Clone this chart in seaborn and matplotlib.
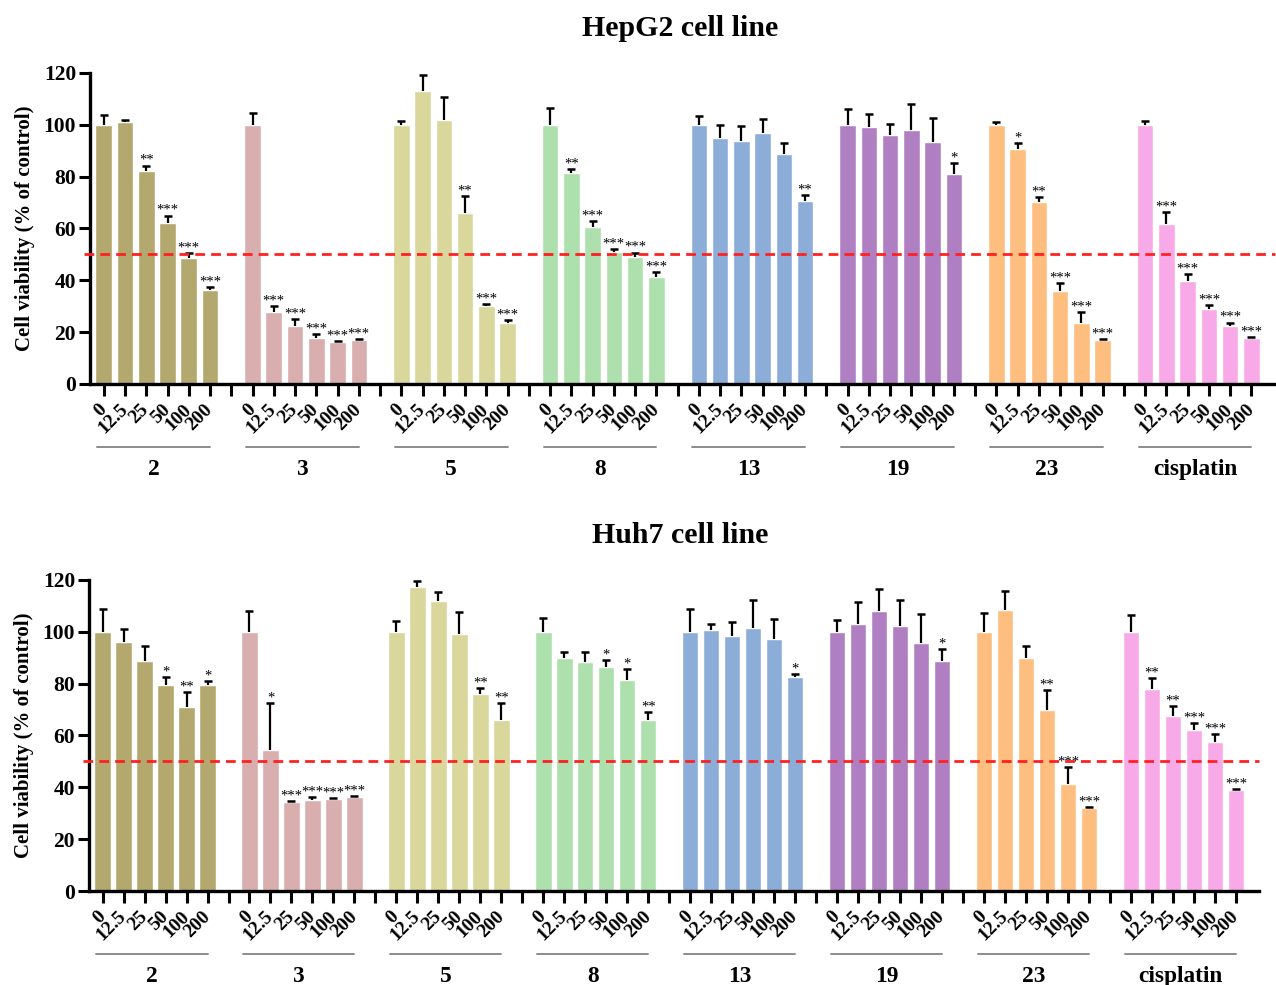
import numpy as np
import pandas as pd
import matplotlib
matplotlib.use("Agg")
import matplotlib.pyplot as plt
import matplotlib.transforms as mtransforms
import seaborn as sns

compounds = ["2", "3", "5", "8", "13", "19", "23", "cisplatin"]
concs = ["0", "12.5", "25", "50", "100", "200"]
colors = ["#B3A86E", "#D9AEAE", "#D9D79B", "#AEE0AE",
          "#8DADD9", "#B07FC2", "#FDBE80", "#F8AAE8"]

# HepG2 cell line, mean and SD per compound (rows) and concentration (cols)
hepg2_mean = [[100, 101, 82, 62, 48.7, 36.4],
              [100, 27.7, 22.5, 17.6, 16.0, 16.9],
              [100, 113, 102, 65.8, 30.2, 23.4],
              [100, 81.4, 60.7, 50.8, 49.0, 41.4],
              [100, 95.0, 93.7, 97.0, 88.7, 70.7],
              [100, 99.3, 95.9, 98.0, 93.4, 81.0],
              [100, 90.5, 70.3, 36.0, 23.7, 16.8],
              [100, 61.7, 39.7, 28.8, 22.4, 17.9]]
hepg2_sd = [[3.8, 1.0, 2.3, 3.0, 1.8, 0.9],
            [4.7, 2.4, 2.5, 1.8, 0.4, 0.4],
            [1.6, 6.2, 8.7, 6.7, 0.5, 1.3],
            [6.6, 1.4, 2.2, 1.1, 1.7, 1.9],
            [3.4, 4.9, 5.8, 5.4, 4.1, 2.1],
            [6.0, 4.7, 4.6, 9.9, 9.1, 4.4],
            [1.0, 2.3, 1.7, 2.8, 3.9, 0.4],
            [1.6, 4.7, 2.6, 1.5, 1.3, 0.3]]
hepg2_sig = [["", "", "**", "***", "***", "***"],
             ["", "***", "***", "***", "***", "***"],
             ["", "", "", "**", "***", "***"],
             ["", "**", "***", "***", "***", "***"],
             ["", "", "", "", "", "**"],
             ["", "", "", "", "", "*"],
             ["", "*", "**", "***", "***", "***"],
             ["", "***", "***", "***", "***", "***"]]

# Huh7 cell line
huh7_mean = [[100, 95.9, 88.9, 79.5, 71.0, 79.3],
             [100, 54.3, 34.3, 35.1, 35.4, 36.1],
             [100, 117.2, 112.0, 99.0, 76.1, 66.1],
             [100, 90.0, 88.5, 86.5, 81.4, 66.1],
             [100, 100.6, 98.5, 101.6, 97.1, 82.4],
             [100, 103.0, 108.0, 102.1, 95.5, 88.7],
             [100, 108.5, 89.9, 69.7, 41.2, 32.0],
             [100, 77.9, 67.4, 62.1, 57.6, 39.0]]
huh7_sd = [[8.7, 5.2, 5.5, 3.2, 5.9, 1.8],
           [8.0, 18.1, 0.3, 1.3, 0.6, 0.5],
           [4.2, 2.5, 3.4, 8.5, 2.1, 6.3],
           [5.3, 2.2, 3.7, 2.5, 4.4, 3.1],
           [8.9, 2.4, 5.2, 10.8, 7.8, 1.2],
           [4.4, 8.4, 8.4, 10.0, 11.4, 4.5],
           [7.4, 7.2, 4.7, 8.0, 6.6, 0.4],
           [6.5, 4.3, 4.0, 2.8, 3.1, 0.4]]
huh7_sig = [["", "", "", "*", "**", "*"],
            ["", "*", "***", "***", "***", "***"],
            ["", "", "", "", "**", "**"],
            ["", "", "", "*", "*", "**"],
            ["", "", "", "", "", "*"],
            ["", "", "", "", "", "*"],
            ["", "", "", "**", "***", "***"],
            ["", "**", "**", "***", "***", "***"]]


def make_frame(means, sds, sigs):
    """Long table, one row per bar; pos leaves one empty slot between groups."""
    rows = []
    for g, comp in enumerate(compounds):
        for c, conc in enumerate(concs):
            rows.append({"compound": comp, "conc": conc, "pos": g * 7 + c,
                         "viability": means[g][c], "sd": sds[g][c],
                         "sig": sigs[g][c]})
    return pd.DataFrame(rows)


def panel(ax, df, title_y, title):
    sns.barplot(data=df, x="pos", y="viability", hue="compound",
                hue_order=compounds, palette=dict(zip(compounds, colors)),
                native_scale=True, dodge=False, width=0.78, saturation=1,
                errorbar=None, legend=False, ax=ax)
    top = df["viability"] + df["sd"]
    ax.vlines(df["pos"], df["viability"], top, color="black", lw=1.6, zorder=3)
    ax.plot(df["pos"], top, ls="none", marker="_", ms=6, mew=1.8,
            color="black", zorder=3)
    for x, y, s in zip(df["pos"], top, df["sig"]):
        if s:
            ax.text(x, y + 0.6, s, ha="center", va="baseline", fontsize=10.5,
                    fontweight="normal", zorder=4)

    ax.axhline(50, color="#FF2020", lw=2, dashes=(3.5, 2.2), zorder=5,
               xmin=-0.005, clip_on=False)

    n_slots = len(compounds) * 7 - 1
    labels = ["" if i % 7 == 6 else concs[i % 7] for i in range(n_slots)]
    ax.set_xticks(range(n_slots))
    ax.set_xticklabels(labels, rotation=45, ha="right", va="center",
                       rotation_mode="anchor", fontsize=14, fontweight="bold")
    shift = mtransforms.ScaledTranslation(4 / 72, 0, ax.figure.dpi_scale_trans)
    for lab in ax.get_xticklabels():
        lab.set_transform(lab.get_transform() + shift)
    ax.set_xlim(-0.65, n_slots + 0.1)
    ax.set_ylim(0, 120)
    ax.set_yticks(range(0, 121, 20))
    ax.tick_params(axis="y", labelsize=15.5, width=2.2, length=8, pad=2)
    ax.tick_params(axis="x", width=2.2, length=8.5, pad=8)
    for lab in ax.get_yticklabels():
        lab.set_fontweight("bold")
    ax.set_xlabel("")
    ax.set_ylabel("Cell viability (% of control)", fontsize=15,
                  fontweight="bold", labelpad=6.5)
    sns.despine(ax=ax)
    for side in ["left", "bottom"]:
        ax.spines[side].set_linewidth(2.4)

    trans = mtransforms.blended_transform_factory(ax.transData, ax.transAxes)
    for g, comp in enumerate(compounds):
        x0 = g * 7
        ax.plot([x0 - 0.3, x0 + 5.0], [-0.203, -0.203], color="#8C8C8C",
                lw=1.4, transform=trans, clip_on=False)
        ax.text(x0 + 2.35, -0.275, comp, transform=trans, ha="center",
                va="center", fontsize=16.8, fontweight="bold")
    ax.figure.text(0.533, title_y, title, ha="center", va="center",
                   fontsize=21.5, fontweight="bold")


sns.set_style("ticks")
plt.rcParams["font.family"] = ["Liberation Serif", "DejaVu Serif"]
plt.rcParams.update({"text.color": "black", "axes.labelcolor": "black",
                     "axes.edgecolor": "black", "xtick.color": "black",
                     "ytick.color": "black"})

fig = plt.figure(figsize=(12.76, 9.85), dpi=100)
ax1 = fig.add_axes([0.0705, 0.6102, 0.9285, 0.3157])
ax2 = fig.add_axes([0.0697, 0.0954, 0.917, 0.3158])

panel(ax1, make_frame(hepg2_mean, hepg2_sd, hepg2_sig), 0.9706, "HepG2 cell line")
panel(ax2, make_frame(huh7_mean, huh7_sd, huh7_sig), 0.4559, "Huh7 cell line")

fig.savefig("out.png", dpi=100)
